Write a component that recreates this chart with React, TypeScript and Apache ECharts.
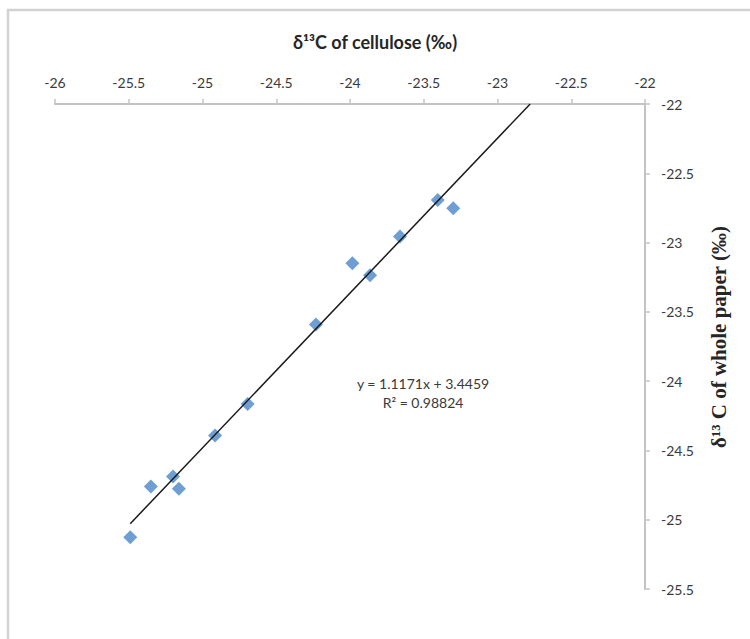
import React, { useEffect, useRef } from "react";
import * as echarts from "echarts";

// δ13C of cellulose (x) vs δ13C of whole paper (y)
const celluloseX: number[] = [-25.49, -25.35, -25.2, -25.16, -24.915, -24.694, -24.231, -23.984, -23.864, -23.661, -23.405, -23.3];
const paperY: number[] = [-25.126, -24.761, -24.689, -24.776, -24.393, -24.165, -23.592, -23.149, -23.236, -22.957, -22.693, -22.753];

// Trendline as reported on the chart
const slope = 1.1171;
const intercept = 3.4459;
const trendStartX = -25.49;
const trendEndY = -22;
const equationLines: string[] = ["y = 1.1171x + 3.4459", "R² = 0.98824"];

const xTicks = { min: -26, max: -22, interval: 0.5 };
const yTicks = { min: -25.5, max: -22, interval: 0.5 };

const xTitle = "δ¹³C of cellulose (‰)";
const yTitle = "δ¹³ C of whole paper (‰)";

export default function App() {
  const ref = useRef<HTMLDivElement>(null);
  useEffect(() => {
    document.body.style.margin = "0";
    if (!ref.current) return;
    const chart = echarts.init(ref.current, undefined, { renderer: "svg" });
    const points = celluloseX.map((x, i) => [x, paperY[i]]);
    const trendEndX = (trendEndY - intercept) / slope;
    const trend = [
      [trendStartX, slope * trendStartX + intercept],
      [trendEndX, trendEndY],
    ];
    const axisGray = "#c3c3c3";
    const labelColor = "#3a3a3a";
    chart.setOption({
      animation: false,
      backgroundColor: "#ffffff",
      grid: { left: 55, right: 105, top: 104, bottom: 50, containLabel: false },
      xAxis: {
        type: "value",
        position: "top",
        min: xTicks.min,
        max: xTicks.max,
        interval: xTicks.interval,
        axisLine: { show: true, onZero: false, lineStyle: { color: axisGray, width: 2 } },
        axisTick: { show: true, length: 5, lineStyle: { color: axisGray, width: 1.5 } },
        axisLabel: { color: labelColor, fontSize: 14, fontFamily: "Lato", margin: 15 },
        splitLine: { show: false },
      },
      yAxis: {
        type: "value",
        position: "right",
        min: yTicks.min,
        max: yTicks.max,
        interval: yTicks.interval,
        axisLine: { show: true, onZero: false, lineStyle: { color: axisGray, width: 2 } },
        axisTick: { show: true, length: 5, lineStyle: { color: axisGray, width: 1.5 } },
        axisLabel: {
          color: labelColor,
          fontSize: 14,
          fontFamily: "Lato",
          margin: 16,
          padding: [8, 0, 0, 0],
        },
        splitLine: { show: false },
      },
      series: [
        {
          type: "scatter",
          data: points,
          symbol: "diamond",
          symbolSize: 14,
          itemStyle: { color: "#4a86c8" },
          z: 2,
        },
        {
          type: "line",
          data: trend,
          showSymbol: false,
          symbol: "none",
          lineStyle: { color: "#1a1a1a", width: 1.5 },
          z: 3,
        },
      ],
      graphic: [
        {
          type: "rect",
          shape: { x: 8, y: 10, width: 800, height: 700 },
          style: { fill: "none", stroke: "#d2d2d2", lineWidth: 2.5 },
          silent: true,
          z: -1,
        },
        {
          type: "text",
          x: 375,
          y: 42,
          style: {
            text: xTitle,
            fontFamily: "Lato",
            fontWeight: "bold",
            fontSize: 18,
            fill: "#262626",
            align: "center",
            verticalAlign: "middle",
          },
        },
        {
          type: "text",
          x: 719,
          y: 337,
          rotation: Math.PI / 2,
          style: {
            text: yTitle,
            fontFamily: "Liberation Serif",
            fontWeight: "bold",
            fontSize: 21,
            fill: "#262626",
            align: "center",
            verticalAlign: "middle",
          },
        },
        {
          type: "text",
          x: 423,
          y: 383,
          style: {
            text: equationLines[0],
            fontFamily: "Lato",
            fontSize: 14,
            fill: labelColor,
            align: "center",
            verticalAlign: "middle",
          },
        },
        {
          type: "text",
          x: 423,
          y: 402,
          style: {
            text: equationLines[1],
            fontFamily: "Lato",
            fontSize: 14,
            fill: labelColor,
            align: "center",
            verticalAlign: "middle",
          },
        },
      ],
    });
    return () => chart.dispose();
  }, []);
  return <div ref={ref} style={{ width: 750, height: 639 }} />;
}
